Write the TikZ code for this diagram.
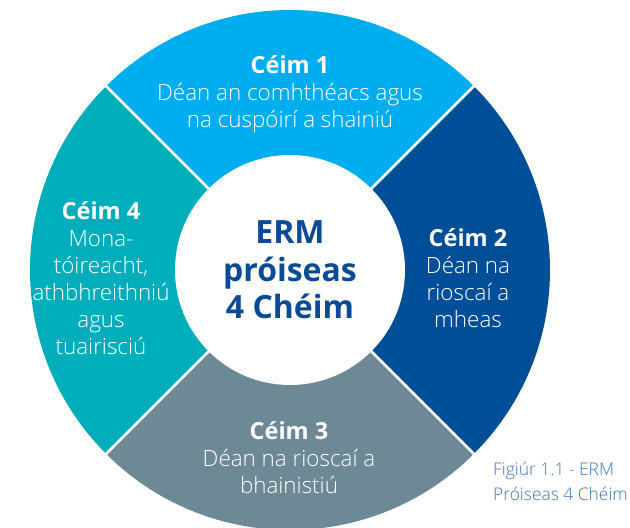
\documentclass[tikz,border=0pt]{standalone}
\usepackage{fontspec}
\setmainfont{Open Sans}
\newfontfamily\lightfont{Open Sans Light}
\definecolor{cTop}{RGB}{0,174,239}
\definecolor{cRight}{RGB}{0,78,152}
\definecolor{cBottom}{RGB}{110,137,150}
\definecolor{cLeft}{RGB}{0,173,187}
\definecolor{cHub}{RGB}{10,74,150}
\definecolor{cCap}{RGB}{63,120,184}
\newcommand{\hdr}[1]{{\fontsize{23.5}{27}\selectfont\normalfont\bfseries #1}}
\begin{document}
\begin{tikzpicture}[x=1pt,y=1pt,
  seglabel/.style={align=center, text=white, inner sep=0pt, font=\lightfont\fontsize{22.4}{27}\selectfont},
  hubstyle/.style={circle, fill=white, minimum size=230pt, inner sep=0pt, align=center, text=cHub, font=\fontsize{32}{37.5}\selectfont\bfseries},
  divider/.style={white, line width=2.5pt},
  caption/.style={anchor=west, align=left, inner sep=0pt, text=cCap, font=\lightfont\fontsize{17.4}{25}\selectfont}]
\useasboundingbox (0,0) rectangle (630,528);
\clip (0,0) rectangle (630,528);
\coordinate (C) at (290,258);
\fill[cTop]    (C) -- ++(45:260)  arc[start angle=45,  end angle=135, radius=260] -- cycle;
\fill[cLeft]   (C) -- ++(135:260) arc[start angle=135, end angle=225, radius=260] -- cycle;
\fill[cBottom] (C) -- ++(225:260) arc[start angle=225, end angle=315, radius=260] -- cycle;
\fill[cRight]  (C) -- ++(315:260) arc[start angle=315, end angle=405, radius=260] -- cycle;
\draw[divider] (C) -- ++(45:265);
\draw[divider] (C) -- ++(135:265);
\draw[divider] (C) -- ++(225:265);
\draw[divider] (C) -- ++(315:265);
\node[hubstyle] (hub) at (C) {ERM\\próiseas\\4 Chéim};
\node[seglabel] (s1) at (290,434) {\hdr{Céim 1}\\Déan an comhthéacs agus\\na cuspóirí a shainiú};
\node[seglabel] (s2) at (468,250) {\hdr{Céim 2}\\Déan na\\rioscaí a\\mheas};
\node[seglabel] (s3) at (289,70) {\hdr{Céim 3}\\Déan na rioscaí a\\bhainistiú};
\node[seglabel] (s4) at (101,250) {\hdr{Céim 4}\\Mona-\\tóireacht,\\athbhreithniú\\agus\\tuairisciú};
\node[caption] (cap) at (493,47) {Figiúr 1.1 - ERM\\Próiseas 4 Chéim};
\end{tikzpicture}
\end{document}
